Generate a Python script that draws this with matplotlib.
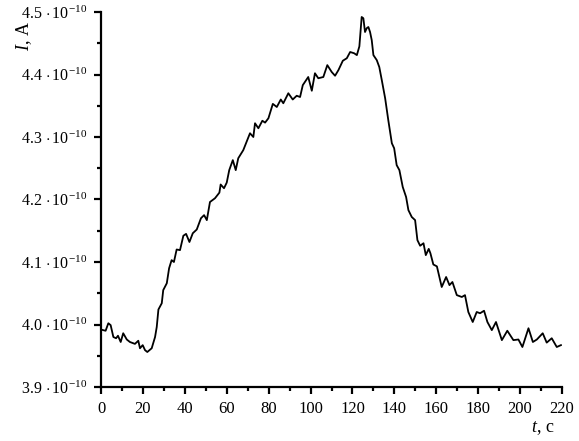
import matplotlib
matplotlib.use("Agg")
import matplotlib.pyplot as plt
from matplotlib.ticker import MultipleLocator, FixedLocator, FixedFormatter
import numpy as np

plt.rcParams['font.family'] = ['Liberation Serif', 'DejaVu Serif']
plt.rcParams['mathtext.fontset'] = 'custom'
plt.rcParams['mathtext.rm'] = 'Liberation Serif'
plt.rcParams['mathtext.it'] = 'Liberation Serif:italic'

# time, s
t = [0, 1, 2.2, 3.5, 4.6, 5.9, 7.2, 8.1, 9.4, 10.6, 12.3, 13.8, 16.2, 17.8, 18.6,
     19.9, 21, 22.1, 24.2, 25.8, 26.6, 27.4, 29, 29.7, 31.4, 32.5, 33.7, 34.8,
     36.1, 37.7, 39.3, 40.6, 42.2, 43.8, 45.7, 47.7, 49.2, 50.5, 52, 54.4, 56.5,
     57.1, 58.7, 60, 61.2, 62.9, 64.3, 65.5, 67.9, 71.1, 72.7, 73.5, 75.1, 77,
     78.3, 79.9, 82, 83.9, 85.8, 87, 89.4, 91.5, 93.4, 95, 96.3, 98.9, 100.6,
     102.1, 103.7, 106.1, 108, 110.1, 111.7, 113.3, 115.4, 117.3, 118.9, 120.8,
     122.1, 123.3, 124.4, 125.2, 126, 126.8, 127.6, 128.4, 129.2, 130, 131.6,
     132.8, 134, 135.6, 137.1, 138.8, 139.9, 141.1, 142.4, 144, 145.6, 146.7,
     148.3, 149.9, 151, 152.3, 153.9, 155, 156.4, 157.2, 158.6, 160.3, 162.6,
     164.7, 166.3, 167.7, 169.8, 172.2, 173.7, 175.3, 177.4, 179.3, 180.9, 182.8,
     184.4, 186.5, 188.5, 191.3, 193.9, 196.8, 199.2, 201.1, 204, 206.1, 208,
     210.8, 212.7, 215.1, 217.5, 219.5]
# current, units of 1e-10 A
current = [3.992, 3.991, 3.990, 4.002, 3.999, 3.980, 3.978, 3.982, 3.972, 3.986,
           3.976, 3.972, 3.969, 3.974, 3.962, 3.967, 3.959, 3.956, 3.962, 3.980,
           3.996, 4.024, 4.034, 4.055, 4.066, 4.090, 4.103, 4.100, 4.120, 4.119,
           4.142, 4.145, 4.132, 4.146, 4.152, 4.170, 4.175, 4.167, 4.196, 4.202,
           4.211, 4.224, 4.218, 4.227, 4.247, 4.263, 4.247, 4.266, 4.279, 4.306,
           4.300, 4.322, 4.314, 4.326, 4.323, 4.330, 4.353, 4.348, 4.360, 4.354,
           4.370, 4.360, 4.366, 4.364, 4.383, 4.396, 4.374, 4.402, 4.394, 4.396,
           4.415, 4.404, 4.398, 4.407, 4.422, 4.426, 4.436, 4.434, 4.431, 4.445,
           4.492, 4.490, 4.468, 4.474, 4.476, 4.468, 4.455, 4.431, 4.423, 4.412,
           4.391, 4.362, 4.327, 4.290, 4.282, 4.255, 4.247, 4.220, 4.204, 4.183,
           4.172, 4.167, 4.135, 4.126, 4.130, 4.111, 4.121, 4.114, 4.096, 4.093,
           4.060, 4.076, 4.063, 4.068, 4.047, 4.044, 4.047, 4.020, 4.004, 4.020,
           4.018, 4.022, 4.004, 3.991, 4.004, 3.975, 3.990, 3.975, 3.976, 3.964,
           3.994, 3.972, 3.976, 3.986, 3.971, 3.978, 3.964, 3.967]

x_ticks = [0, 20, 40, 60, 80, 100, 120, 140, 160, 180, 200, 220]
y_ticks = [3.9, 4.0, 4.1, 4.2, 4.3, 4.4, 4.5]
y_tick_labels = [r'$\mathrm{%.1f\,\cdot 10^{-10}}$' % v for v in y_ticks]

fig = plt.figure(figsize=(5.79, 4.41), dpi=100)
ax = fig.add_axes([101/579, 54/441, 461/579, 375/441])

ax.plot(t, np.array(current) * 1e-10, color='black', lw=1.3)

ax.set_xlim(0, 220)
ax.set_ylim(3.9e-10, 4.5e-10)

ax.xaxis.set_major_locator(FixedLocator(x_ticks))
ax.xaxis.set_minor_locator(MultipleLocator(10))
ax.yaxis.set_major_locator(FixedLocator([v * 1e-10 for v in y_ticks]))
ax.yaxis.set_major_formatter(FixedFormatter(y_tick_labels))
ax.yaxis.set_minor_locator(MultipleLocator(0.05e-10))

for side in ['top', 'right']:
    ax.spines[side].set_visible(False)
for side in ['left', 'bottom']:
    ax.spines[side].set_linewidth(1.6)

ax.tick_params(axis='x', which='major', direction='out', length=5, width=1.6,
               labelsize=12, pad=5)
ax.tick_params(axis='y', which='major', direction='out', length=5, width=1.6,
               labelsize=11.5, pad=5)
ax.tick_params(which='minor', direction='out', length=3, width=1.6)

fig.text(24/579, 1 - 36/441, r'$\mathit{I}$, A', rotation=90, fontsize=13,
         ha='center', va='center')
fig.text(543/579, 1 - 428/441, r'$\mathit{t}$, c', fontsize=13,
         ha='center', va='center')

fig.savefig('out.png', dpi=100)
